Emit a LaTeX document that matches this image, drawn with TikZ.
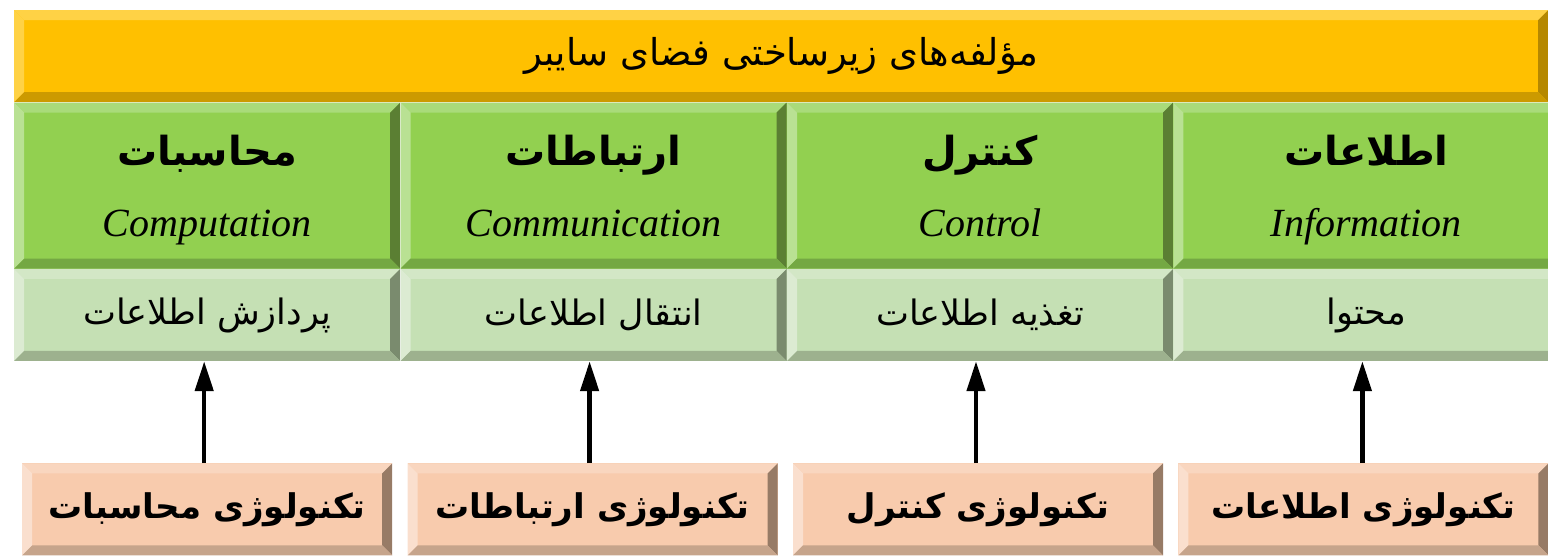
\documentclass[tikz,border=0pt]{standalone}
\usepackage{fontspec}
\setmainfont{Liberation Serif}
\newfontfamily\farsi[Script=Arabic]{DejaVu Sans}
\TeXXeTstate=1
\usetikzlibrary{positioning, arrows.meta}
\definecolor{orangeface}{HTML}{FFC000}
\definecolor{orangetop}{HTML}{FFD245}
\definecolor{orangedark}{HTML}{CC9A00}
\definecolor{orangeright}{HTML}{B58800}
\definecolor{greenface}{HTML}{92D050}
\definecolor{greentop}{HTML}{A9DB7A}
\definecolor{greenleft}{HTML}{B9E193}
\definecolor{greenright}{HTML}{5B7F33}
\definecolor{greenbottom}{HTML}{74A843}
\definecolor{paleface}{HTML}{C5E0B4}
\definecolor{paletop}{HTML}{D3E7C6}
\definecolor{paleleft}{HTML}{DCEBD2}
\definecolor{paleright}{HTML}{7A8B6E}
\definecolor{palebottom}{HTML}{9DB18E}
\definecolor{peachface}{HTML}{F8CBAD}
\definecolor{peachtop}{HTML}{F9D6BF}
\definecolor{peachleft}{HTML}{FADFCE}
\definecolor{peachright}{HTML}{977B66}
\definecolor{peachbottom}{HTML}{C6A48B}
\tikzset{
    bevel/.style n args={4}{
        path picture={
            \fill[#1] (path picture bounding box.north west) -- (path picture bounding box.north east)
                -- ([shift={(-10pt,-10pt)}]path picture bounding box.north east)
                -- ([shift={(10pt,-10pt)}]path picture bounding box.north west) -- cycle;
            \fill[#2] (path picture bounding box.north west) -- (path picture bounding box.south west)
                -- ([shift={(10pt,10pt)}]path picture bounding box.south west)
                -- ([shift={(10pt,-10pt)}]path picture bounding box.north west) -- cycle;
            \fill[#3] (path picture bounding box.north east) -- (path picture bounding box.south east)
                -- ([shift={(-10pt,10pt)}]path picture bounding box.south east)
                -- ([shift={(-10pt,-10pt)}]path picture bounding box.north east) -- cycle;
            \fill[#4] (path picture bounding box.south west) -- (path picture bounding box.south east)
                -- ([shift={(-10pt,10pt)}]path picture bounding box.south east)
                -- ([shift={(10pt,10pt)}]path picture bounding box.south west) -- cycle;
        }
    },
    topbar/.style={rectangle, inner sep=0pt, fill=orangeface, minimum width=1534pt, minimum height=92pt,
        bevel={orangetop}{orangetop}{orangeright}{orangedark}, font=\fontsize{37}{44}\selectfont\farsi},
    field/.style={rectangle, inner sep=0pt, fill=greenface, minimum width=386pt, minimum height=166pt,
        bevel={greentop}{greenleft}{greenright}{greenbottom}, align=center, font=\fontsize{40}{48}\selectfont},
    role/.style={rectangle, inner sep=0pt, fill=paleface, minimum width=386pt, minimum height=92pt,
        bevel={paletop}{paleleft}{paleright}{palebottom}, font=\fontsize{35}{42}\selectfont\farsi},
    tech/.style={rectangle, inner sep=0pt, fill=peachface, minimum width=370pt, minimum height=92pt,
        bevel={peachtop}{peachleft}{peachright}{peachbottom}, font=\fontsize{34}{40}\selectfont\farsi\bfseries},
    feed/.style={-{Triangle[length=30pt,width=18pt]}, line width=4.5pt},
}
\newcommand{\fieldtext}[2]{\rule{0pt}{45pt}{\farsi\bfseries\beginR #1\endR}\\[23pt]%
    \rule[-14pt]{0pt}{14pt}{\itshape #2}}

\begin{document}
\begin{tikzpicture}[x=1pt,y=1pt]
\useasboundingbox (0,0) rectangle (1548,557);
\clip (0,0) rectangle (1548,557);

\node[topbar] (cyber) at (14,547) [anchor=north west] {\beginR مؤلفه‌های زیرساختی فضای سایبر\endR};

% fields
\node[field] (comp) at (cyber.south west) [anchor=north west] {\fieldtext{محاسبات}{Computation}};
\node[field] (comm) [right=0pt of comp] {\fieldtext{ارتباطات}{Communication}};
\node[field] (ctrl) [right=0pt of comm] {\fieldtext{کنترل}{Control}};
\node[field] (info) [right=0pt of ctrl] {\fieldtext{اطلاعات}{Information}};

% roles
\node[role] (compr) [below=0pt of comp] {\beginR پردازش اطلاعات\endR};
\node[role] (commr) [below=0pt of comm] {\beginR انتقال اطلاعات\endR};
\node[role] (ctrlr) [below=0pt of ctrl] {\beginR تغذیه اطلاعات\endR};
\node[role] (infor) [below=0pt of info] {\beginR محتوا\endR};

% technologies
\node[tech] (compt) [below=102pt of compr] {\beginR تکنولوژی محاسبات\endR};
\node[tech] (commt) [below=102pt of commr, xshift=-1pt] {\beginR تکنولوژی ارتباطات\endR};
\node[tech] (ctrlt) [below=102pt of ctrlr, xshift=-2pt] {\beginR تکنولوژی کنترل\endR};
\node[tech] (infot) [below=102pt of infor, xshift=-3pt] {\beginR تکنولوژی اطلاعات\endR};

\draw[feed] ([xshift=-3pt]compt.north) -- ([xshift=-3pt]compt.north |- compr.south);
\draw[feed] ([xshift=-3pt]commt.north) -- ([xshift=-3pt]commt.north |- commr.south);
\draw[feed] ([xshift=-2pt]ctrlt.north) -- ([xshift=-2pt]ctrlt.north |- ctrlr.south);
\draw[feed] ([xshift=-1pt]infot.north) -- ([xshift=-1pt]infot.north |- infor.south);

\end{tikzpicture}
\end{document}
